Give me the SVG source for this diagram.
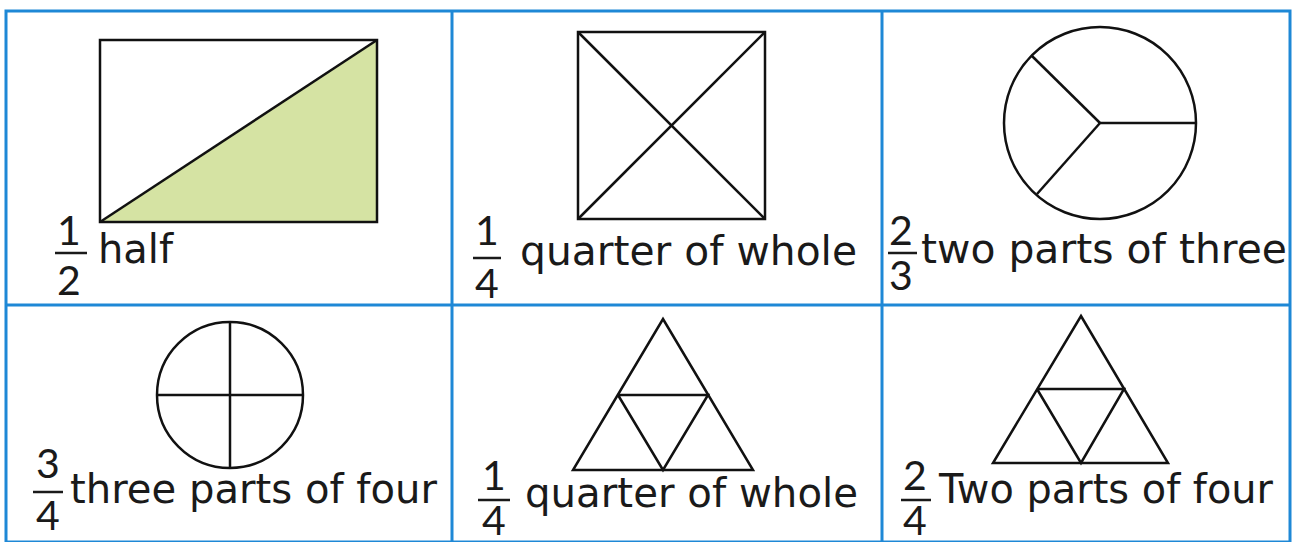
<svg xmlns="http://www.w3.org/2000/svg" width="1296" height="542" viewBox="0 0 1296 542">
<style>
.grid{fill:none;stroke:#1e88d6;stroke-width:3}
.shape{fill:none;stroke:#111;stroke-width:2.5;stroke-linejoin:miter}
.lbl{font-family:"DejaVu Sans","Liberation Sans",sans-serif;font-size:40px;fill:#1a1a1a}
.num{font-family:Lato,"Noto Sans",sans-serif;font-size:41px;fill:#1a1a1a;text-anchor:middle}
.bar{stroke:#1a1a1a;stroke-width:2.5}
</style>
<rect width="1296" height="542" fill="#fff"/>
<g id="grid">
<rect class="grid" x="6" y="11" width="1284" height="531"/>
<line class="grid" x1="6" y1="305" x2="1290" y2="305"/>
<line class="grid" x1="452" y1="11" x2="452" y2="542"/>
<line class="grid" x1="882" y1="11" x2="882" y2="542"/>
</g>
<g id="cell-half">
<polygon points="100,222 377,40 377,222" fill="#d5e3a3"/>
<rect class="shape" x="100" y="40" width="277" height="182"/>
<line class="shape" x1="100" y1="222" x2="377" y2="40"/>
<text class="num" x="69" y="245">1</text>
<line class="bar" x1="55" y1="253" x2="87" y2="253"/>
<text class="num" x="69" y="295">2</text>
<text class="lbl" x="98" y="263" textLength="75" lengthAdjust="spacingAndGlyphs">half</text>
</g>
<g id="cell-quarter-square">
<rect class="shape" x="578" y="32" width="187" height="187"/>
<line class="shape" x1="578" y1="32" x2="765" y2="219"/>
<line class="shape" x1="765" y1="32" x2="578" y2="219"/>
<text class="num" x="487" y="245">1</text>
<line class="bar" x1="473" y1="258" x2="501" y2="258"/>
<text class="num" x="487" y="298">4</text>
<text class="lbl" x="520" y="265" textLength="337" lengthAdjust="spacingAndGlyphs">quarter of whole</text>
</g>
<g id="cell-two-thirds">
<circle class="shape" cx="1100" cy="123" r="96"/>
<line class="shape" x1="1100" y1="123" x2="1196" y2="123"/>
<line class="shape" x1="1100" y1="123" x2="1032" y2="56"/>
<line class="shape" x1="1100" y1="123" x2="1037" y2="194"/>
<text class="num" x="901" y="245">2</text>
<line class="bar" x1="888" y1="253" x2="917" y2="253"/>
<text class="num" x="901" y="290">3</text>
<text class="lbl" x="921" y="263" textLength="366" lengthAdjust="spacingAndGlyphs">two parts of three</text>
</g>
<g id="cell-three-quarters">
<circle class="shape" cx="230" cy="395" r="73"/>
<line class="shape" x1="230" y1="322" x2="230" y2="468"/>
<line class="shape" x1="157" y1="395" x2="303" y2="395"/>
<text class="num" x="48" y="478">3</text>
<line class="bar" x1="33" y1="492" x2="63" y2="492"/>
<text class="num" x="48" y="530">4</text>
<text class="lbl" x="70" y="503" textLength="367" lengthAdjust="spacingAndGlyphs">three parts of four</text>
</g>
<g id="cell-quarter-triangle">
<polygon class="shape" points="663,319 753,470 573,470"/>
<polyline class="shape" points="618,395 708,395 663,470 618,395"/>
<text class="num" x="494" y="490">1</text>
<line class="bar" x1="478" y1="500" x2="510" y2="500"/>
<text class="num" x="494" y="535">4</text>
<text class="lbl" x="525" y="507" textLength="333" lengthAdjust="spacingAndGlyphs">quarter of whole</text>
</g>
<g id="cell-two-quarters-triangle">
<polygon class="shape" points="1081,316 1168,463 993,463"/>
<polyline class="shape" points="1037,389 1124,389 1081,463 1037,389"/>
<text class="num" x="915" y="490">2</text>
<line class="bar" x1="901" y1="500" x2="931" y2="500"/>
<text class="num" x="915" y="535">4</text>
<text class="lbl" x="939" y="503" textLength="334" lengthAdjust="spacingAndGlyphs">Two parts of four</text>
</g>
</svg>
